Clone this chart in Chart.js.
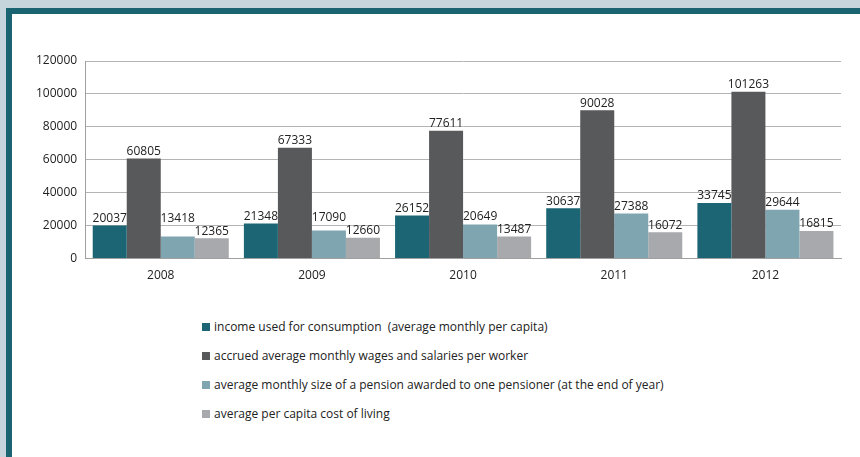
<!DOCTYPE html>
<html>
<head>
<meta charset="utf-8">
<script src="https://cdn.jsdelivr.net/npm/chart.js@4/dist/chart.umd.min.js"></script>
<style>
  html, body { margin: 0; padding: 0; }
  body { width: 860px; height: 457px; background: #c5d5db; position: relative; overflow: hidden; font-family: "Open Sans", sans-serif; }
  #frame { position: absolute; left: 6px; top: 8px; right: 0; bottom: 0; background: #fff; border-left: 6px solid #1a6472; border-top: 6px solid #1a6472; }
  #wrap { position: absolute; left: 0; top: 0; width: 860px; height: 300px; }
  #legend { position: absolute; left: 202px; top: 317px; font-size: 12px; color: #222; }
  #legend div { height: 29px; line-height: 20px; white-space: pre; }
  #legend span { display: inline-block; width: 8px; height: 8px; margin-right: 4px; vertical-align: 0px; }
</style>
</head>
<body>
<div id="frame"></div>
<div id="wrap"><canvas id="chart"></canvas></div>
<div id="legend"></div>
<script>
const years = ['2008', '2009', '2010', '2011', '2012'];
const income = [20037, 21348, 26152, 30637, 33745];
const wages = [60805, 67333, 77611, 90028, 101263];
const pension = [13418, 17090, 20649, 27388, 29644];
const costOfLiving = [12365, 12660, 13487, 16072, 16815];

const seriesNames = [
    'income used for consumption  (average monthly per capita)',
    'accrued average monthly wages and salaries per worker',
    'average monthly size of a pension awarded to one pensioner (at the end of year)',
    'average per capita cost of living'
];
const seriesColors = ['#1b6575', '#58595b', '#7fa5b0', '#a7a9ac'];
const seriesData = [income, wages, pension, costOfLiving];

// value labels above each bar, nudged up when they would collide
const barLabels = {
    id: 'barLabels',
    afterDatasetsDraw(chart) {
        const ctx = chart.ctx;
        ctx.save();
        ctx.font = '12px "Open Sans"';
        ctx.fillStyle = '#222';
        ctx.textAlign = 'center';
        ctx.textBaseline = 'bottom';
        const h = 13;
        const n = chart.data.datasets.length;
        chart.data.labels.forEach((_, j) => {
            const placed = [];
            for (let i = n - 1; i >= 0; i--) {
                const bar = chart.getDatasetMeta(i).data[j];
                const text = String(chart.data.datasets[i].data[j]);
                const w = ctx.measureText(text).width;
                let bottom = bar.y - 1;
                placed.forEach(p => {
                    const hOver = Math.abs(p.x - bar.x) < (p.w + w) / 2;
                    const vOver = bottom > p.bottom - h && bottom - h < p.bottom;
                    if (hOver && vOver) bottom = p.bottom - h;
                });
                placed.push({ x: bar.x, w: w, bottom: bottom });
                ctx.fillText(text, bar.x, bottom);
            }
        });
        ctx.restore();
    }
};

const chart = new Chart(document.getElementById('chart').getContext('2d'), {
    type: 'bar',
    data: {
        labels: years,
        datasets: seriesData.map((d, i) => ({
            label: seriesNames[i],
            data: d,
            backgroundColor: seriesColors[i],
            categoryPercentage: 0.9,
            barPercentage: 1
        }))
    },
    options: {
        responsive: true,
        maintainAspectRatio: false,
        animation: false,
        layout: { padding: { left: 28, right: 19, top: 61, bottom: 7 } },
        plugins: {
            legend: { display: false },
            tooltip: { enabled: false }
        },
        scales: {
            x: {
                grid: { display: false, drawTicks: false },
                border: { color: '#a0a0a0', width: 1 },
                ticks: { color: '#222', font: { family: 'Open Sans', size: 12 }, padding: 10 }
            },
            y: {
                min: 0,
                max: 120000,
                grid: { color: '#b4b4b4', drawTicks: false },
                border: { color: '#a0a0a0', width: 1 },
                ticks: {
                    stepSize: 20000,
                    color: '#222',
                    font: { family: 'Open Sans', size: 12 },
                    padding: 8,
                    callback: v => String(v)
                }
            }
        }
    },
    plugins: [barLabels]
});

const legend = document.getElementById('legend');
seriesNames.forEach((name, i) => {
    const row = document.createElement('div');
    const box = document.createElement('span');
    box.style.background = seriesColors[i];
    row.appendChild(box);
    row.appendChild(document.createTextNode(name));
    legend.appendChild(row);
});
</script>
</body>
</html>
